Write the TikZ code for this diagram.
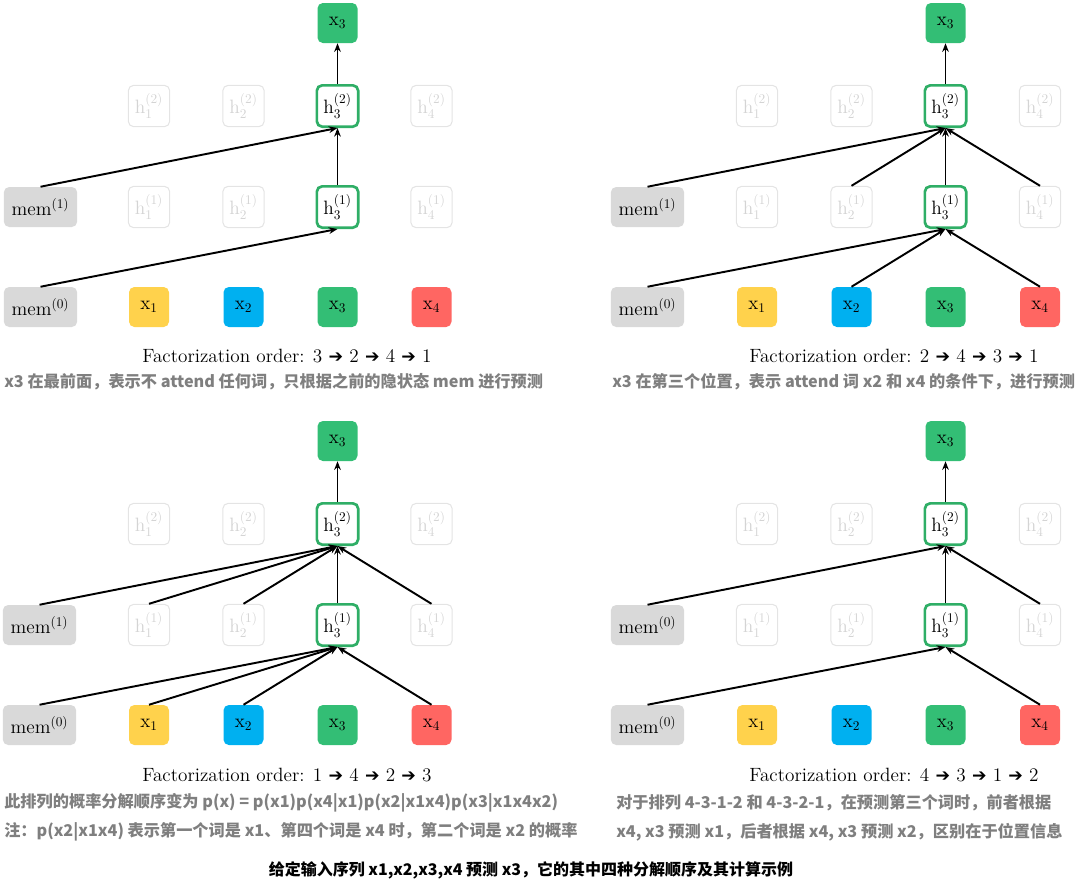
\documentclass[tikz,border=0pt]{standalone}
\usepackage{amsmath}
\usepackage{fontspec}
\usepackage{tikz}
\usetikzlibrary{arrows.meta}
\usepackage{xcolor}
\newfontfamily\cjk{Noto Sans CJK SC}
\newfontfamily\arrowfont{DejaVu Sans}
\definecolor{memgray}{HTML}{D9D9D9}
\definecolor{xyellow}{HTML}{FFD24C}
\definecolor{xblue}{HTML}{00B0F0}
\definecolor{xgreen}{HTML}{33BE75}
\definecolor{xred}{HTML}{FF6662}
\definecolor{hgreen}{HTML}{2FAE66}
\definecolor{fadeline}{HTML}{E4E4E4}
\definecolor{fadetext}{HTML}{D4D4D4}
\definecolor{notegray}{HTML}{7F7F7F}
\newcommand{\ord}{{\arrowfont\fontsize{13}{16}\selectfont ➔}}

\begin{document}
\begin{tikzpicture}[x=0.75pt, y=-0.75pt,
    box/.style={rounded corners=4pt, minimum size=30pt, inner sep=0pt, font=\fontsize{14.5}{16}\selectfont},
    membox/.style={box, fill=memgray, minimum width=55pt},
    inbox/.style={box},
    faded/.style={box, draw=fadeline, text=fadetext, line width=0.8pt, minimum size=31pt},
    active/.style={box, draw=hgreen, fill=white, line width=2pt, minimum size=31pt},
    arr/.style={-{Stealth[length=6.5pt, width=5pt]}, line width=1.45pt},
    order/.style={font=\fontsize{14.4}{16}\selectfont},
    note/.style={anchor=west, inner sep=0pt, text=notegray, font=\fontsize{12.15}{14}\cjk\bfseries}]
    \useasboundingbox (0,0) rectangle (1078,886);

    % order 3 -> 2 -> 4 -> 1
    \begin{scope}
    \node[membox] (a-mem0) at (40.5, 307) {$\mathrm{mem}^{(0)}$};
    \node[membox] (a-mem1) at (40.5, 207) {$\mathrm{mem}^{(1)}$};
    \node[inbox, fill=xyellow] (a-x1) at (149, 307) {$\mathrm{x}_1$};
    \node[inbox, fill=xblue] (a-x2) at (243.5, 307) {$\mathrm{x}_2$};
    \node[inbox, fill=xgreen] (a-x3) at (337.5, 307) {$\mathrm{x}_3$};
    \node[inbox, fill=xred] (a-x4) at (431.5, 307) {$\mathrm{x}_4$};
    \node[faded] (a-h1-1) at (149, 207) {$\mathrm{h}_1^{(1)}$};
    \node[faded] (a-h2-1) at (243.5, 207) {$\mathrm{h}_2^{(1)}$};
    \node[active] (a-h3-1) at (337.5, 207) {$\mathrm{h}_3^{(1)}$};
    \node[faded] (a-h4-1) at (431.5, 207) {$\mathrm{h}_4^{(1)}$};
    \node[faded] (a-h1-2) at (149, 106) {$\mathrm{h}_1^{(2)}$};
    \node[faded] (a-h2-2) at (243.5, 106) {$\mathrm{h}_2^{(2)}$};
    \node[active] (a-h3-2) at (337.5, 106) {$\mathrm{h}_3^{(2)}$};
    \node[faded] (a-h4-2) at (431.5, 106) {$\mathrm{h}_4^{(2)}$};
    \node[inbox, fill=xgreen] (a-out) at (337.5, 23) {$\mathrm{x}_3$};

    \draw[arr] (a-mem0.north) -- (a-h3-1.south);
    \draw[arr] (a-mem1.north) -- (a-h3-2.south);
    \draw[arr] (a-h3-1.north) -- (a-h3-2.south);
    \draw[arr] (a-h3-2.north) -- (a-out.south);

    \node[order] (a-order) at (287, 356) {Factorization order: 3 \ord{} 2 \ord{} 4 \ord{} 1};
    \node[note] (a-note) at (4, 382) {x3 在最前面，表示不 attend 任何词，只根据之前的隐状态 mem 进行预测};
    \end{scope}

    % order 2 -> 4 -> 3 -> 1
    \begin{scope}[shift={(607,0)}]
    \node[membox] (b-mem0) at (40.5, 307) {$\mathrm{mem}^{(0)}$};
    \node[membox] (b-mem1) at (40.5, 207) {$\mathrm{mem}^{(1)}$};
    \node[inbox, fill=xyellow] (b-x1) at (150, 307) {$\mathrm{x}_1$};
    \node[inbox, fill=xblue] (b-x2) at (244.5, 307) {$\mathrm{x}_2$};
    \node[inbox, fill=xgreen] (b-x3) at (338.5, 307) {$\mathrm{x}_3$};
    \node[inbox, fill=xred] (b-x4) at (433, 307) {$\mathrm{x}_4$};
    \node[faded] (b-h1-1) at (150, 207) {$\mathrm{h}_1^{(1)}$};
    \node[faded] (b-h2-1) at (244.5, 207) {$\mathrm{h}_2^{(1)}$};
    \node[active] (b-h3-1) at (338.5, 207) {$\mathrm{h}_3^{(1)}$};
    \node[faded] (b-h4-1) at (433, 207) {$\mathrm{h}_4^{(1)}$};
    \node[faded] (b-h1-2) at (150, 106) {$\mathrm{h}_1^{(2)}$};
    \node[faded] (b-h2-2) at (244.5, 106) {$\mathrm{h}_2^{(2)}$};
    \node[active] (b-h3-2) at (338.5, 106) {$\mathrm{h}_3^{(2)}$};
    \node[faded] (b-h4-2) at (433, 106) {$\mathrm{h}_4^{(2)}$};
    \node[inbox, fill=xgreen] (b-out) at (338.5, 23) {$\mathrm{x}_3$};

    \draw[arr] (b-mem0.north) -- (b-h3-1.south);
    \draw[arr] (b-x2.north) -- (b-h3-1.south);
    \draw[arr] (b-x4.north) -- (b-h3-1.south);
    \draw[arr] (b-mem1.north) -- (b-h3-2.south);
    \draw[arr] (b-h2-1.north) -- (b-h3-2.south);
    \draw[arr] (b-h3-1.north) -- (b-h3-2.south);
    \draw[arr] (b-h4-1.north) -- (b-h3-2.south);
    \draw[arr] (b-h3-2.north) -- (b-out.south);

    \node[order] (b-order) at (287, 356) {Factorization order: 2 \ord{} 4 \ord{} 3 \ord{} 1};
    \node[note] (b-note) at (5, 382) {x3 在第三个位置，表示 attend 词 x2 和 x4 的条件下，进行预测};
    \end{scope}

    % order 1 -> 4 -> 2 -> 3
    \begin{scope}[shift={(0,418)}]
    \node[membox] (c-mem0) at (39.5, 307) {$\mathrm{mem}^{(0)}$};
    \node[membox] (c-mem1) at (39.5, 207) {$\mathrm{mem}^{(1)}$};
    \node[inbox, fill=xyellow] (c-x1) at (149, 307) {$\mathrm{x}_1$};
    \node[inbox, fill=xblue] (c-x2) at (243.5, 307) {$\mathrm{x}_2$};
    \node[inbox, fill=xgreen] (c-x3) at (337.5, 307) {$\mathrm{x}_3$};
    \node[inbox, fill=xred] (c-x4) at (431.5, 307) {$\mathrm{x}_4$};
    \node[faded] (c-h1-1) at (149, 207) {$\mathrm{h}_1^{(1)}$};
    \node[faded] (c-h2-1) at (243.5, 207) {$\mathrm{h}_2^{(1)}$};
    \node[active] (c-h3-1) at (337.5, 207) {$\mathrm{h}_3^{(1)}$};
    \node[faded] (c-h4-1) at (431.5, 207) {$\mathrm{h}_4^{(1)}$};
    \node[faded] (c-h1-2) at (149, 106) {$\mathrm{h}_1^{(2)}$};
    \node[faded] (c-h2-2) at (243.5, 106) {$\mathrm{h}_2^{(2)}$};
    \node[active] (c-h3-2) at (337.5, 106) {$\mathrm{h}_3^{(2)}$};
    \node[faded] (c-h4-2) at (431.5, 106) {$\mathrm{h}_4^{(2)}$};
    \node[inbox, fill=xgreen] (c-out) at (337.5, 23) {$\mathrm{x}_3$};

    \draw[arr] (c-mem0.north) -- (c-h3-1.south);
    \draw[arr] (c-x1.north) -- (c-h3-1.south);
    \draw[arr] (c-x2.north) -- (c-h3-1.south);
    \draw[arr] (c-x4.north) -- (c-h3-1.south);
    \draw[arr] (c-mem1.north) -- (c-h3-2.south);
    \draw[arr] (c-h1-1.north) -- (c-h3-2.south);
    \draw[arr] (c-h2-1.north) -- (c-h3-2.south);
    \draw[arr] (c-h3-1.north) -- (c-h3-2.south);
    \draw[arr] (c-h4-1.north) -- (c-h3-2.south);
    \draw[arr] (c-h3-2.north) -- (c-out.south);

    \node[order] (c-order) at (287, 357) {Factorization order: 1 \ord{} 4 \ord{} 2 \ord{} 3};
    \node[note] (c-note1) at (4, 385) {此排列的概率分解顺序变为 p(x) = p(x1)p(x4|x1)p(x2|x1x4)p(x3|x1x4x2)};
    \node[note] (c-note2) at (4, 414) {注：p(x2|x1x4) 表示第一个词是 x1、第四个词是 x4 时，第二个词是 x2 的概率};
    \end{scope}

    % order 4 -> 3 -> 1 -> 2
    \begin{scope}[shift={(607,418)}]
    \node[membox] (d-mem0) at (40.5, 307) {$\mathrm{mem}^{(0)}$};
    \node[membox] (d-mem1) at (40.5, 207) {$\mathrm{mem}^{(0)}$};
    \node[inbox, fill=xyellow] (d-x1) at (150, 307) {$\mathrm{x}_1$};
    \node[inbox, fill=xblue] (d-x2) at (244.5, 307) {$\mathrm{x}_2$};
    \node[inbox, fill=xgreen] (d-x3) at (338.5, 307) {$\mathrm{x}_3$};
    \node[inbox, fill=xred] (d-x4) at (433, 307) {$\mathrm{x}_4$};
    \node[faded] (d-h1-1) at (150, 207) {$\mathrm{h}_1^{(1)}$};
    \node[faded] (d-h2-1) at (244.5, 207) {$\mathrm{h}_2^{(1)}$};
    \node[active] (d-h3-1) at (338.5, 207) {$\mathrm{h}_3^{(1)}$};
    \node[faded] (d-h4-1) at (433, 207) {$\mathrm{h}_4^{(1)}$};
    \node[faded] (d-h1-2) at (150, 106) {$\mathrm{h}_1^{(2)}$};
    \node[faded] (d-h2-2) at (244.5, 106) {$\mathrm{h}_2^{(2)}$};
    \node[active] (d-h3-2) at (338.5, 106) {$\mathrm{h}_3^{(2)}$};
    \node[faded] (d-h4-2) at (433, 106) {$\mathrm{h}_4^{(2)}$};
    \node[inbox, fill=xgreen] (d-out) at (338.5, 23) {$\mathrm{x}_3$};

    \draw[arr] (d-mem0.north) -- (d-h3-1.south);
    \draw[arr] (d-x4.north) -- (d-h3-1.south);
    \draw[arr] (d-mem1.north) -- (d-h3-2.south);
    \draw[arr] (d-h3-1.north) -- (d-h3-2.south);
    \draw[arr] (d-h4-1.north) -- (d-h3-2.south);
    \draw[arr] (d-h3-2.north) -- (d-out.south);

    \node[order] (d-order) at (287, 357) {Factorization order: 4 \ord{} 3 \ord{} 1 \ord{} 2};
    \node[note] (d-note1) at (9, 385) {对于排列 4-3-1-2 和 4-3-2-1，在预测第三个词时，前者根据};
    \node[note] (d-note2) at (9, 414) {x4, x3 预测 x1，后者根据 x4, x3 预测 x2，区别在于位置信息};
    \end{scope}

    \node[font=\fontsize{12}{14}\cjk\bfseries] (caption) at (531, 870) {给定输入序列 x1,x2,x3,x4 预测 x3，它的其中四种分解顺序及其计算示例};
\end{tikzpicture}
\end{document}
